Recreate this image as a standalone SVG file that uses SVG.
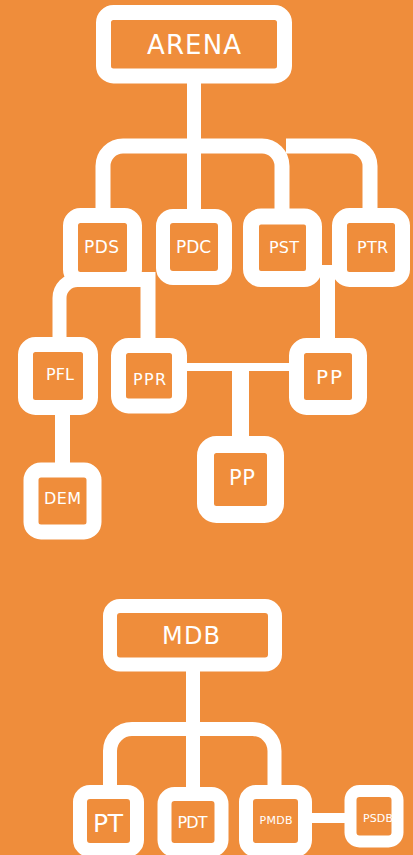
<svg xmlns="http://www.w3.org/2000/svg" width="413" height="855" viewBox="0 0 413 855">
<style>
.box{fill:#EF8D3B;stroke:#FFFFFF}
.c{fill:none;stroke:#FFFFFF;stroke-linecap:butt;stroke-linejoin:round}
.t{fill:#FFFFFF;font-family:"DejaVu Sans","Liberation Sans",sans-serif;text-anchor:middle}
</style>
<rect x="0" y="0" width="413" height="855" fill="#EF8D3B"/>
<g id="connectors">
<path class="c" stroke-width="14" d="M194,83 V209"/>
<path class="c" stroke-width="15" d="M103,209 V166 A20,20 0 0 1 123,146 H262 A20,20 0 0 1 282,166 V209"/>
<path class="c" stroke-width="15" d="M286,146 H350 A20,20 0 0 1 370,166 V209"/>
<path class="c" stroke-width="14" d="M59.5,338 V298 A18,18 0 0 1 77.5,280 H148"/>
<path class="c" stroke-width="15" d="M148,272 V339"/>
<path class="c" stroke-width="10" d="M314,270 H340"/>
<path class="c" stroke-width="15" d="M327.5,270 V339"/>
<path class="c" stroke-width="8" d="M187,367 H290"/>
<path class="c" stroke-width="17" d="M240.5,367 V437"/>
<path class="c" stroke-width="15" d="M62.5,414 V464"/>
<path class="c" stroke-width="14" d="M193,671 V787"/>
<path class="c" stroke-width="14" d="M110,786 V751 A22,22 0 0 1 132,729 H252.5 A22,22 0 0 1 274.5,751 V786"/>
<path class="c" stroke-width="10" d="M312,818 H346"/>
</g>
<g id="arena"><rect class="box" x="103.5" y="12.5" width="181" height="63.5" rx="10" stroke-width="15"/><text class="t" x="194" y="54" font-size="26" textLength="94">ARENA</text></g>
<g id="pds"><rect class="box" x="70.5" y="215.5" width="64" height="64" rx="10" stroke-width="15"/><text class="t" x="101.5" y="253" font-size="17" textLength="35">PDS</text></g>
<g id="pdc"><rect class="box" x="163" y="216" width="62" height="62" rx="10" stroke-width="14"/><text class="t" x="193.5" y="253" font-size="17" textLength="35">PDC</text></g>
<g id="pst"><rect class="box" x="251" y="216.5" width="63" height="62.5" rx="10" stroke-width="16"/><text class="t" x="284" y="253" font-size="16" textLength="30">PST</text></g>
<g id="ptr"><rect class="box" x="339.5" y="215.5" width="63" height="64" rx="10" stroke-width="15"/><text class="t" x="372.5" y="253" font-size="16" textLength="31">PTR</text></g>
<g id="pfl"><rect class="box" x="25.5" y="344.5" width="65" height="63" rx="10" stroke-width="15"/><text class="t" x="60" y="380" font-size="16" textLength="28">PFL</text></g>
<g id="ppr"><rect class="box" x="118.5" y="345.5" width="61" height="60.5" rx="10" stroke-width="15"/><text class="t" x="149.5" y="385" font-size="16" textLength="33">PPR</text></g>
<g id="pp1"><rect class="box" x="296.5" y="345.5" width="63" height="62" rx="10" stroke-width="15"/><text class="t" x="329" y="384" font-size="20" textLength="26">PP</text></g>
<g id="dem"><rect class="box" x="31" y="470" width="63" height="62" rx="10" stroke-width="15"/><text class="t" x="62.5" y="504" font-size="16" textLength="37">DEM</text></g>
<g id="pp2"><rect class="box" x="205.5" y="444.5" width="70" height="70" rx="11" stroke-width="17"/><text class="t" x="242" y="485" font-size="21" textLength="26">PP</text></g>
<g id="mdb"><rect class="box" x="110" y="606" width="165" height="58.5" rx="10" stroke-width="14"/><text class="t" x="191" y="644" font-size="24" textLength="58">MDB</text></g>
<g id="pt"><rect class="box" x="80" y="792" width="57" height="58" rx="10" stroke-width="14"/><text class="t" x="108" y="832" font-size="25" textLength="30">PT</text></g>
<g id="pdt"><rect class="box" x="164.5" y="794" width="57" height="56" rx="10" stroke-width="14"/><text class="t" x="192.5" y="828" font-size="16" textLength="30">PDT</text></g>
<g id="pmdb"><rect class="box" x="246" y="792" width="59" height="58" rx="10" stroke-width="14"/><text class="t" x="276" y="824" font-size="11" textLength="33">PMDB</text></g>
<g id="psdb"><rect class="box" x="350.5" y="791" width="47" height="50.5" rx="9" stroke-width="12"/><text class="t" x="378" y="822" font-size="11" textLength="30">PSDB</text></g>
</svg>
